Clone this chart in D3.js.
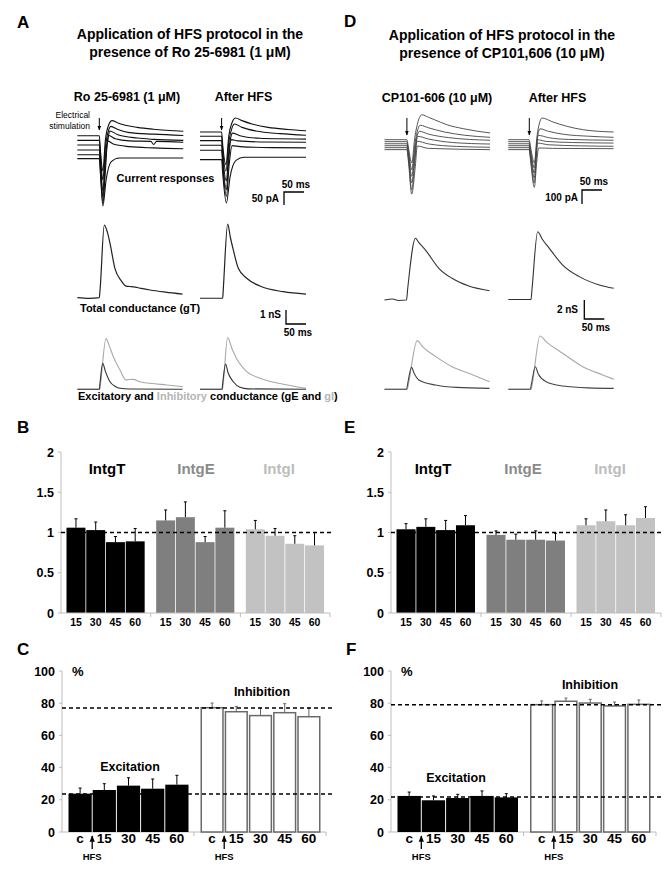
<!DOCTYPE html>
<html><head><meta charset="utf-8">
<script src="https://cdn.jsdelivr.net/npm/d3@7"></script>
<style>body{margin:0;background:#fff} svg text{font-family:"Liberation Sans",Arial,sans-serif}</style>
</head><body><svg id="c" width="672" height="876" style="background:#fff"></svg>
<script>
// ---------------- DATA ----------------
// Current responses (time ms, current pA), panel A
const curA_ctrl = [
 [[0,0],[55,0],[58,-60],[64,-136],[70,-20],[78,40],[87,58],[100,50],[120,40],[150,32],[190,25],[265,17]],
 [[0,-18],[55,-18],[58,-80],[64,-170],[70,-50],[78,20],[84,36],[100,25],[130,12],[190,6],[265,1]],
 [[0,-36],[55,-36],[58,-100],[64,-213],[70,-80],[78,0],[81,18],[100,5],[150,-9],[190,-14],[265,-18]],
 [[0,-55],[55,-55],[58,-120],[64,-236],[70,-110],[76,-15],[79,1],[95,-12],[130,-20],[184,-22],[191,-34],[198,-22],[265,-25]],
 [[0,-73],[55,-73],[58,-140],[64,-259],[70,-140],[76,-20],[90,-32],[130,-42],[190,-47],[265,-50]],
 [[0,-88],[55,-88],[58,-150],[64,-270],[72,-170],[85,-100],[105,-86],[190,-86],[265,-86]]
];
const curA_hfs = [
 [[0,14],[54,14],[57,-40],[65,-111],[72,0],[80,50],[89,68],[105,58],[130,45],[170,32],[220,24],[265,19]],
 [[0,-2],[54,-2],[57,-60],[65,-136],[72,-25],[80,30],[86,45],[105,32],[140,18],[200,8],[265,2]],
 [[0,-19],[54,-19],[57,-80],[66,-174],[72,-60],[78,0],[81,10],[100,0],[150,-10],[200,-12],[265,-13]],
 [[0,-37],[54,-37],[57,-100],[66,-208],[72,-90],[77,-15],[95,-20],[150,-24],[265,-25]],
 [[0,-56],[54,-56],[57,-120],[66,-233],[73,-110],[80,-38],[100,-42],[180,-46],[265,-47]],
 [[0,-92],[54,-92],[57,-150],[66,-259],[75,-160],[90,-95],[110,-83],[265,-83]]
];
// panel D
const curD_ctrl = [
 [[0,0],[56,0],[60,-60],[68,-166],[76,20],[84,130],[93,178],[110,160],[125,143],[156,107],[198,78],[264,48]],
 [[0,-14],[56,-14],[60,-80],[68,-214],[76,-30],[84,80],[89,103],[110,85],[150,55],[200,32],[264,17]],
 [[0,-29],[56,-29],[60,-100],[68,-261],[76,-70],[83,40],[87,60],[110,40],[160,15],[264,-4]],
 [[0,-43],[56,-43],[60,-120],[68,-309],[76,-110],[81,10],[83,24],[110,5],[170,-20],[264,-31]],
 [[0,-57],[56,-57],[60,-140],[68,-357],[76,-150],[81,-11],[110,-30],[180,-48],[264,-54]],
 [[0,-71],[56,-71],[60,-160],[68,-388],[77,-190],[82,-45],[110,-62],[264,-71]]
];
const curD_hfs = [
 [[0,0],[52,0],[56,-60],[65,-166],[72,30],[78,120],[84,155],[112,126],[146,96],[188,71],[263,55]],
 [[0,-14],[52,-14],[56,-80],[65,-202],[71,-30],[75,50],[79,78],[100,60],[140,38],[200,25],[263,17]],
 [[0,-29],[52,-29],[56,-100],[65,-238],[70,-80],[73,15],[75,31],[100,15],[150,2],[263,-4]],
 [[0,-43],[52,-43],[56,-120],[65,-273],[70,-110],[72.5,0],[95,-12],[160,-20],[263,-24]],
 [[0,-57],[52,-57],[56,-140],[65,-309],[70,-130],[73,-24],[100,-36],[180,-44],[263,-47]],
 [[0,-71],[52,-71],[56,-160],[65,-340],[71,-160],[76,-59],[110,-62],[263,-64]]
];
// conductances (time ms, nS)
const gT_A_ctrl = [[0,0],[30,-0.05],[55,0],[57,0.6],[67.5,5.19],[75,4.7],[81.7,3.89],[94,2.1],[110,1.2],[121.75,0.83],[130,0.8],[140,0.78],[160,0.66],[181.75,0.55],[220,0.4],[263,0.26]];
const gT_A_hfs  = [[0,-0.04],[56.75,-0.04],[58,0.5],[69.25,5.26],[76,4.3],[83.25,3.41],[95.75,2.1],[116.75,1.39],[150,0.83],[208.3,0.43],[265,0.26]];
const gI_A_ctrl = [[0,0],[56,0],[58,0.4],[71.75,3.62],[80,3.1],[90,2.33],[106.75,1.38],[121.75,0.67],[130,0.7],[140,0.71],[156.75,0.54],[181.75,0.43],[223.5,0.31],[263.5,0.19]];
const gE_A_ctrl = [[0,0],[55,0],[57,0.5],[63.5,1.86],[70,1.3],[81.75,0.54],[95,0.2],[106.75,0.07],[130,0.02],[263,0]];
const gI_A_hfs  = [[0,0],[56,0],[58,0.4],[69,3.69],[80,2.9],[95.75,1.98],[116.75,1.26],[150,0.79],[208.3,0.36],[265,0.07]];
const gE_A_hfs  = [[0,0],[55,0],[57,0.5],[64,1.81],[70,1.2],[83.25,0.54],[100,0.14],[120,0.03],[265,0]];
const gT_D_ctrl = [[0,0],[20,0.1],[35,-0.05],[55,0],[58,1.2],[77.5,6.5],[85,6.1],[102.5,5.26],[135.75,3.34],[169,2.28],[210.75,1.47],[262.5,0.98]];
const gT_D_hfs  = [[0,0.05],[56.75,0.05],[59,1],[73.5,7.19],[85,6.4],[102.5,5.44],[136,3.68],[177.5,2.46],[227.5,1.58],[263.5,1.23]];
const gI_D_ctrl = [[0,0],[57,0],[60,0.6],[81.75,5.12],[95,4.5],[127.5,3.47],[169,2.38],[210.75,1.68],[262.5,0.8]];
const gE_D_ctrl = [[0,0],[55,0],[58,0.6],[67.5,2.31],[75,1.6],[85.75,0.98],[127.5,0.45],[180,0.2],[262.5,0.1]];
const gI_D_hfs  = [[0,0],[57,0],[60,0.6],[79.25,5.61],[95,5],[136,3.79],[186,2.38],[236,1.51],[263.5,1.05]];
const gE_D_hfs  = [[0,0],[55,0],[58,0.6],[67.5,2.38],[75,1.6],[94.25,0.8],[136,0.35],[200,0.15],[263.5,0.1]];

// Integrated conductance ratios (panels B and E)
const intGroups = ["IntgT","IntgE","IntgI"];
const intTimes = ["15","30","45","60"];
const intTicks = [0,0.5,1,1.5,2];
const B_vals = [[1.06,1.03,0.88,0.89],[1.15,1.19,0.88,1.06],[1.04,0.96,0.86,0.84]];
const B_err  = [[0.11,0.10,0.07,0.16],[0.13,0.19,0.07,0.21],[0.11,0.09,0.10,0.16]];
const E_vals = [[1.04,1.07,1.03,1.09],[0.97,0.91,0.91,0.90],[1.09,1.14,1.09,1.18]];
const E_err  = [[0.07,0.10,0.12,0.12],[0.05,0.07,0.11,0.09],[0.08,0.14,0.13,0.14]];
// Excitation / Inhibition percentages (panels C and F)
const pctGroups = ["Excitation","Inhibition"];
const pctTimes = ["c","15","30","45","60"];
const pctTicks = [0,20,40,60,80,100];
const C_exc = [23.8,26.1,28.8,26.9,29.4], C_excErr = [3.5,3.9,4.9,6.0,5.8];
const C_inh = [77.2,74.7,72.3,74.1,71.6], C_inhErr = [2.9,3.3,4.7,5.6,5.4];
const C_ref = [77,23.6];
const F_exc = [22.4,19.7,21.1,22.4,21.5], F_excErr = [2.4,2.7,2.3,3.1,2.3];
const F_inh = [79.1,81.2,80.1,78.3,79.3], F_inhErr = [2.3,2.0,2.3,2.4,2.7];
const F_ref = [79.1,21.8];

// ---------------- DRAW ----------------
const svg = d3.select("#c");
const defs = svg.append("defs");
defs.append("marker").attr("id","ah").attr("viewBox","0 0 10 10").attr("refX",9).attr("refY",5)
  .attr("markerWidth",5).attr("markerHeight",5).attr("orient","auto-start-reverse")
  .append("path").attr("d","M0,1 L10,5 L0,9 z").attr("fill","#000");

function T(x,y,s,o={}) {
  const t = svg.append("text").attr("x",x).attr("y",y).text(s)
    .attr("font-size",o.size||12).attr("font-weight",o.w||"bold")
    .attr("text-anchor",o.a||"start").attr("fill",o.c||"#000");
  return t;
}
function L(x1,y1,x2,y2,o={}) {
  return svg.append("line").attr("x1",x1).attr("y1",y1).attr("x2",x2).attr("y2",y2)
    .attr("stroke",o.c||"#000").attr("stroke-width",o.w||1).attr("stroke-dasharray",o.d||null);
}
function trace(data, xs, ys, color, width) {
  const line = d3.line().x(d=>xs(d[0])).y(d=>ys(d[1])).curve(d3.curveMonotoneX);
  svg.append("path").datum(data).attr("d",line).attr("fill","none")
    .attr("stroke",color).attr("stroke-width",width).attr("stroke-linejoin","round");
}

// Panel letters & titles
T(17,28,"A",{size:17});
T(344,27,"D",{size:17});
T(17,433,"B",{size:17});
T(344,433,"E",{size:17});
T(17,655,"C",{size:17});
T(346,655,"F",{size:17});

T(190,39,"Application of HFS protocol in the",{size:14,a:"middle"});
T(190,57,"presence of Ro 25-6981 (1 \u03bcM)",{size:14,a:"middle"});
T(502,40,"Application of HFS protocol in the",{size:14,a:"middle"});
T(502,58,"presence of CP101,606 (10 \u03bcM)",{size:14,a:"middle"});

T(127,101,"Ro 25-6981 (1 \u03bcM)",{size:12.5,a:"middle"});
T(243.5,101,"After HFS",{size:12.5,a:"middle"});
T(437,102,"CP101-606 (10 \u03bcM)",{size:12.5,a:"middle"});
T(557.5,102,"After HFS",{size:12.5,a:"middle"});

// ---- Panel A traces ----
const xA1 = d3.scaleLinear().domain([0,265]).range([77.3,183.3]);
const xA2 = d3.scaleLinear().domain([0,265]).range([200,306]);
const yAc = d3.scaleLinear().domain([0,50]).range([135.7,122.7]);
const yAg = d3.scaleLinear().domain([0,1]).range([297.7,283.7]);
const yAe = d3.scaleLinear().domain([0,1]).range([389.3,375.3]);
curA_ctrl.forEach(d=>trace(d,xA1,yAc,"#111",1.1));
curA_hfs.forEach(d=>trace(d,xA2,yAc,"#111",1.1));
trace(gT_A_ctrl,xA1,yAg,"#222",1.2);
trace(gT_A_hfs,xA2,yAg,"#222",1.2);
trace(gI_A_ctrl,xA1,yAe,"#a8a8a8",1.1);
trace(gI_A_hfs,xA2,yAe,"#a8a8a8",1.1);
trace(gE_A_ctrl,xA1,yAe,"#333",1.1);
trace(gE_A_hfs,xA2,yAe,"#333",1.1);

// stimulation arrows
[[xA1(55),118,130],[xA2(54),118,130],[0,0,0]].slice(0,2).forEach(a=>{
  L(a[0],a[1],a[0],a[2]).attr("marker-end","url(#ah)");
});
T(90,118,"Electrical",{size:8.5,w:"normal",a:"end"});
T(90,129,"stimulation",{size:8.5,w:"normal",a:"end"});
T(165.5,181.5,"Current responses",{size:11,a:"middle"});

// scale bars A current
{
  const bx=284, by=192;
  const w = xA1(50)-xA1(0), h = yAc(-50)-yAc(0);
  svg.append("path").attr("d",`M${bx+w},${by} H${bx} V${by+h}`).attr("fill","none").attr("stroke","#000").attr("stroke-width",1.3);
  T(bx+w/2+2,188,"50 ms",{size:10,a:"middle"});
  T(bx-5,202,"50 pA",{size:10,a:"end"});
}
T(80,312,"Total conductance (gT)",{size:11});
{
  const bx=286, by=310;
  const w = xA1(50)-xA1(0), h = yAg(0)-yAg(1);
  svg.append("path").attr("d",`M${bx},${by} V${by+h} H${bx+w}`).attr("fill","none").attr("stroke","#000").attr("stroke-width",1.3);
  T(281,318,"1 nS",{size:10,a:"end"});
  T(298,336,"50 ms",{size:10,a:"middle"});
}
{
  const t = T(78,399.5,"",{size:11});
  t.append("tspan").text("Excitatory and ");
  t.append("tspan").attr("fill","#b5b5b5").text("Inhibitory");
  t.append("tspan").text(" conductance (gE and ");
  t.append("tspan").attr("fill","#b5b5b5").text("gI");
  t.append("tspan").text(")");
}

// ---- Panel D traces ----
const xD1 = d3.scaleLinear().domain([0,265]).range([384.5,490.5]);
const xD2 = d3.scaleLinear().domain([0,265]).range([508.3,614.3]);
const yDc = d3.scaleLinear().domain([0,100]).range([139.7,125.7]);
const yDg = d3.scaleLinear().domain([0,1]).range([300,290.5]);
const yDe = d3.scaleLinear().domain([0,1]).range([389.3,379.8]);
curD_ctrl.forEach(d=>trace(d,xD1,yDc,"#444",0.9));
curD_hfs.forEach(d=>trace(d,xD2,yDc,"#444",0.9));
trace(gT_D_ctrl,xD1,yDg,"#333",1.1);
trace(gT_D_hfs,xD2,yDg,"#333",1.1);
trace(gI_D_ctrl,xD1,yDe,"#a8a8a8",1.1);
trace(gI_D_hfs,xD2,yDe,"#a8a8a8",1.1);
trace(gE_D_ctrl,xD1,yDe,"#444",1.1);
trace(gE_D_hfs,xD2,yDe,"#444",1.1);
L(xD1(56),118,xD1(56),135).attr("marker-end","url(#ah)");
L(xD2(52.5),118,xD2(52.5),135).attr("marker-end","url(#ah)");
{
  const bx=582, by=190;
  const w = xD1(50)-xD1(0), h = yDc(-100)-yDc(0);
  svg.append("path").attr("d",`M${bx+w},${by} H${bx} V${by+h}`).attr("fill","none").attr("stroke","#000").attr("stroke-width",1.3);
  T(594,185,"50 ms",{size:10,a:"middle"});
  T(578,201,"100 pA",{size:10,a:"end"});
}
{
  const bx=584.3, by=300;
  const w = xD1(50)-xD1(0), h = yDg(0)-yDg(2);
  svg.append("path").attr("d",`M${bx},${by} V${by+h} H${bx+w}`).attr("fill","none").attr("stroke","#000").attr("stroke-width",1.3);
  T(578,313,"2 nS",{size:10,a:"end"});
  T(596,331,"50 ms",{size:10,a:"middle"});
}

// ---- Bar charts B & E ----
const intColors = ["#000000","#7f7f7f","#c2c2c2"];
const intLabelColors = ["#000000","#8a8a8a","#bdbdbd"];
function intChart(x0,x1,vals,errs,labelX) {
  const y = d3.scaleLinear().domain([0,2]).range([613,452]);
  const gx = d3.scaleBand().domain(intGroups).range([x0,x1]);
  const bw = gx.bandwidth();
  const ix = d3.scaleBand().domain(intTimes).range([5.5,bw-6]).paddingInner(0.04);
  const g = svg.append("g");
  // axes
  L(x0,y(0),x0,y(2),{c:"#bdbdbd"});
  intTicks.forEach(t=>{ L(x0-3,y(t),x0,y(t),{c:"#bdbdbd"});
    T(x0-7,y(t)+4.5,String(t),{size:12.5,a:"end"}); });
  L(x0,y(0),x1,y(0),{c:"#bdbdbd"});
  intGroups.forEach((gr,i)=>{
    const gx0 = gx(gr);
    L(gx0+bw,y(0),gx0+bw,y(0)+4,{c:"#bdbdbd"});
    intTimes.forEach((tm,j)=>{
      const v = vals[i][j], e = errs[i][j];
      const bx = gx0+ix(tm);
      g.append("rect").attr("x",bx).attr("y",y(v)).attr("width",ix.bandwidth()).attr("height",y(0)-y(v)).attr("fill",intColors[i]);
      const cx = bx+ix.bandwidth()/2;
      L(cx,y(v),cx,y(v+e),{c:"#000",w:1});
      L(cx-1.5,y(v+e),cx+1.5,y(v+e),{c:"#000",w:1});
      T(cx,626,tm,{size:10.5,a:"middle"});
    });
    T(labelX[i],474,gr,{size:15,a:"middle",c:intLabelColors[i]});
  });
  L(x0,y(1),x1+3,y(1),{c:"#000",w:1.5,d:"4,3"});
}
intChart(61,330,B_vals,B_err,[107,196,279]);
intChart(391,661,E_vals,E_err,[433,523,610]);

// ---- Bar charts C & F ----
function pctChart(x0,x1,exc,excE,inh,inhE,ref,labelPos) {
  const y = d3.scaleLinear().domain([0,100]).range([832,671]);
  const gx = d3.scaleBand().domain(pctGroups).range([x0,x1]);
  const bw = gx.bandwidth();
  const ix = d3.scaleBand().domain(pctTimes).range([6.5,bw-5.5]).paddingInner(0.04);
  L(x0,y(0),x0,y(100),{c:"#bdbdbd"});
  pctTicks.forEach(t=>{ L(x0-3,y(t),x0,y(t),{c:"#bdbdbd"});
    T(x0-7,y(t)+4.5,String(t),{size:12.5,a:"end"}); });
  L(x0,y(0),x1,y(0),{c:"#bdbdbd"});
  T(x0+10,676,"%",{size:13});
  [[exc,excE],[inh,inhE]].forEach((s,i)=>{
    const gx0 = gx(pctGroups[i]);
    L(gx0+bw,y(0),gx0+bw,y(0)+4,{c:"#bdbdbd"});
    pctTimes.forEach((tm,j)=>{
      const v=s[0][j], e=s[1][j];
      const bx = gx0+ix(tm), w = ix.bandwidth();
      if(i===0) svg.append("rect").attr("x",bx).attr("y",y(v)).attr("width",w).attr("height",y(0)-y(v)).attr("fill","#000");
      else svg.append("rect").attr("x",bx+0.75).attr("y",y(v)).attr("width",w-1.5).attr("height",y(0)-y(v)).attr("fill","#fff").attr("stroke","#6a6a6a").attr("stroke-width",1.5);
      const cx = bx+w/2;
      const ec = i===0?"#000":"#666";
      L(cx,y(v),cx,y(v+e),{c:ec,w:1});
      L(cx-1.5,y(v+e),cx+1.5,y(v+e),{c:ec,w:1});
      T(cx,843,tm,{size:13.5,a:"middle"});
    });
    // HFS arrow between c and 15
    const ax = gx0 + (ix("c")+ix.bandwidth()+ix("15"))/2;
    L(ax,849,ax,836,{w:1.3}).attr("marker-end","url(#ah)");
    T(ax,860,"HFS",{size:9.5,a:"middle"});
    T(labelPos[i][0],labelPos[i][1],pctGroups[i],{size:12.5,a:"middle"});
  });
  ref.forEach(r=>L(x0,y(r),x1+6,y(r),{c:"#000",w:1.5,d:"4,3"}));
}
pctChart(62,326,C_exc,C_excErr,C_inh,C_inhErr,C_ref,[[130,771],[262,696]]);
pctChart(391,656,F_exc,F_excErr,F_inh,F_inhErr,F_ref,[[456,782],[590,689]]);
</script></body></html>
